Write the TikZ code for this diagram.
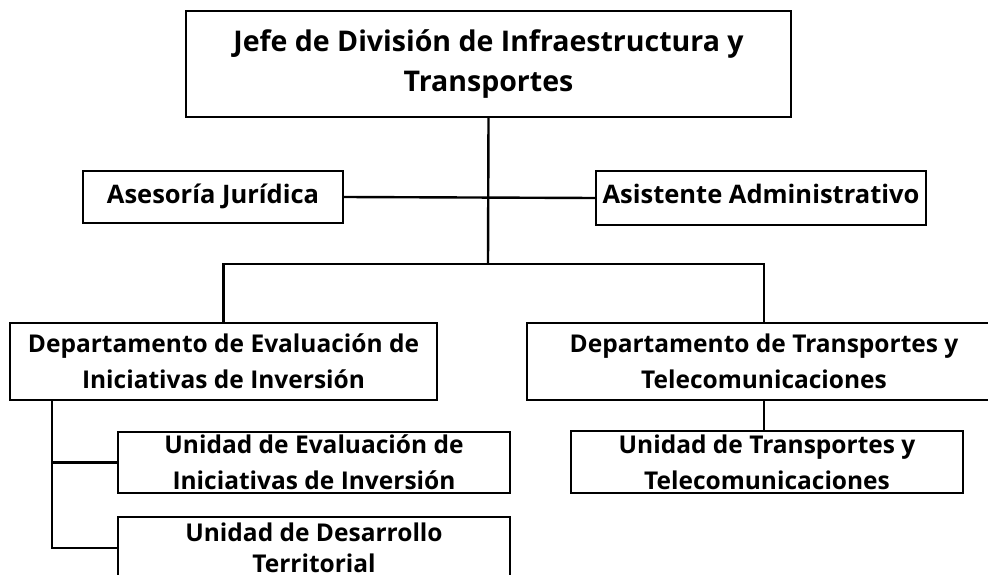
\documentclass[tikz,border=0pt]{standalone}
\usepackage{fontspec}
\setmainfont{Open Sans}
\begin{document}
\begin{tikzpicture}[x=1pt,y=-1pt,
  box/.style={draw=black, line width=2.4pt, inner sep=0pt, align=center,
    font=\bfseries\fontsize{24.5}{36}\selectfont},
  oneline/.style={text height=17pt, text depth=5pt, font=\bfseries\fontsize{25.5}{36}\selectfont},
  link/.style={draw=black, line width=2.4pt}]
\useasboundingbox (0,0) rectangle (988,575);
\fill[white] (0,0) rectangle (988,575);
\node[box, minimum width=605pt, minimum height=106pt, font=\bfseries\fontsize{28.5}{40}\selectfont] (jefe) at (488.5,64)
  {Jefe de División de Infraestructura y\\Transportes};
\node[box, oneline, minimum width=260pt, minimum height=52pt] (ases) at (213,197) {Asesoría Jurídica};
\node[box, oneline, minimum width=330pt, minimum height=54pt] (asis) at (761,198) {Asistente Administrativo};
\node[box, minimum width=427pt, minimum height=77pt] (deval) at (223.5,361.5)
  {Departamento de Evaluación de\\Iniciativas de Inversión};
\node[box, minimum width=474pt, minimum height=77pt] (dtrans) at (764,361.5)
  {Departamento de Transportes y\\Telecomunicaciones};
\node[box, minimum width=392pt, minimum height=62pt] (utrans) at (767,462)
  {Unidad de Transportes y\\Telecomunicaciones};
\node[box, minimum width=392pt, minimum height=61pt] (ueval) at (314,462.5)
  {Unidad de Evaluación de\\Iniciativas de Inversión};
\node[box, minimum width=392pt, minimum height=62pt, font=\bfseries\fontsize{24.5}{31}\selectfont] (udes) at (314,548)
  {Unidad de Desarrollo\\Territorial};
\coordinate (bar) at (488,264);
\coordinate (lft) at (52,400);
\draw[link] (jefe.south) -- (bar);
\draw[link] (ases.east) -- (asis.west);
\draw[link] (deval.north) |- (bar) -| (dtrans.north);
\draw[link] (dtrans.south) -- (dtrans.south |- utrans.north);
\draw[link] (lft) |- (udes.west);
\draw[link] (lft |- ueval.west) -- (ueval.west);
\end{tikzpicture}
\end{document}
